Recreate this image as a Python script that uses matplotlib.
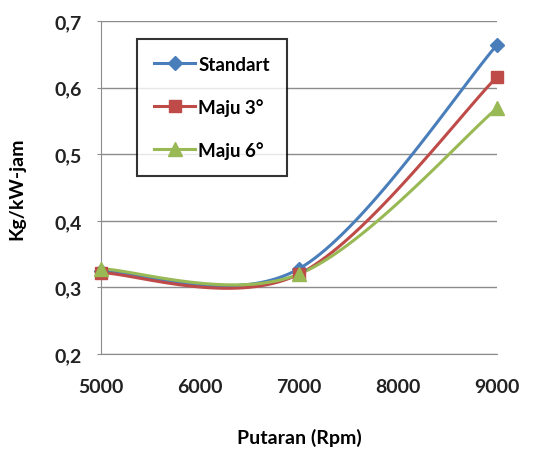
import numpy as np
import matplotlib.pyplot as plt
from matplotlib.ticker import FuncFormatter

rpm = [5000, 7000, 9000]
standart = [0.325, 0.328, 0.664]
maju3 = [0.322, 0.320, 0.616]
maju6 = [0.328, 0.320, 0.569]

labels = ["Standart", "Maju 3°", "Maju 6°"]
colors = ["#4A7EBB", "#BE4B48", "#98B954"]
markers = ["D", "s", "^"]
msizes = [7, 9, 10]


def smooth(x, y, n=40):
    # excel-like smoothed line: cubic bezier through the points
    x = np.asarray(x, float)
    y = np.asarray(y, float)
    px = np.concatenate([[x[0]], x, [x[-1]]])
    py = np.concatenate([[y[0]], y, [y[-1]]])
    xs, ys = [], []
    t = np.linspace(0, 1, n)[:, None]
    for i in range(1, len(x)):
        p0 = np.array([px[i], py[i]])
        p3 = np.array([px[i + 1], py[i + 1]])
        c1 = p0 + (np.array([px[i + 1], py[i + 1]]) - np.array([px[i - 1], py[i - 1]])) / 6
        c2 = p3 - (np.array([px[i + 2], py[i + 2]]) - np.array([px[i], py[i]])) / 6
        b = (1 - t) ** 3 * p0 + 3 * (1 - t) ** 2 * t * c1 + 3 * (1 - t) * t ** 2 * c2 + t ** 3 * p3
        xs.extend(b[:, 0])
        ys.extend(b[:, 1])
    return xs, ys


plt.rcParams['font.family'] = ['Lato', 'DejaVu Sans']

fig = plt.figure(figsize=(5.38, 4.52), dpi=100)
ax = fig.add_axes([0.1877, 0.2146, 0.7361, 0.7367])

for series, lab, c, m, ms in zip([standart, maju3, maju6], labels, colors, markers, msizes):
    sx, sy = smooth(rpm, series)
    ax.plot(sx, sy, color=c, lw=2.2, solid_capstyle='round', zorder=3)
    ax.plot(rpm, series, ls='none', marker=m, ms=ms, color=c, clip_on=False, zorder=4)
    # legend proxy
    ax.plot([], [], color=c, lw=2.2, marker=m, ms=ms, label=lab)

ax.set_xlim(5000, 9000)
ax.set_ylim(0.2, 0.7)
ax.set_xticks([5000, 6000, 7000, 8000, 9000])
ax.set_yticks([0.2, 0.3, 0.4, 0.5, 0.6, 0.7])
ax.yaxis.set_major_formatter(FuncFormatter(lambda v, p: ("%.1f" % v).replace(".", ",")))
ax.grid(axis='y', color='#8c8c8c', lw=1)
ax.set_axisbelow(True)
for s in ['top', 'right']:
    ax.spines[s].set_visible(False)
for s in ['left', 'bottom']:
    ax.spines[s].set_color('#8c8c8c')
ax.tick_params(axis='y', length=3, color='#8c8c8c', labelsize=14, pad=11)
ax.tick_params(axis='x', length=0, labelsize=14, pad=17)
for t in ax.get_xticklabels() + ax.get_yticklabels():
    t.set_fontweight('bold')
    t.set_color('#222222')

ax.set_xlabel("Putaran (Rpm)", fontsize=14, fontweight='bold', labelpad=24)
ax.set_ylabel("Kg/kW-jam", fontsize=14, fontweight='bold', labelpad=21)

leg = ax.legend(loc='upper left', bbox_to_anchor=(0.255, 0.912), bbox_transform=fig.transFigure,
                handlelength=2.2, labelspacing=1.35, borderpad=0.9,
                handletextpad=0.15, borderaxespad=0, fancybox=False, frameon=True,
                prop={'weight': 'bold', 'size': 13.5})
leg.get_frame().set_edgecolor('black')
leg.get_frame().set_linewidth(1.5)

fig.savefig("out.png", dpi=100)
